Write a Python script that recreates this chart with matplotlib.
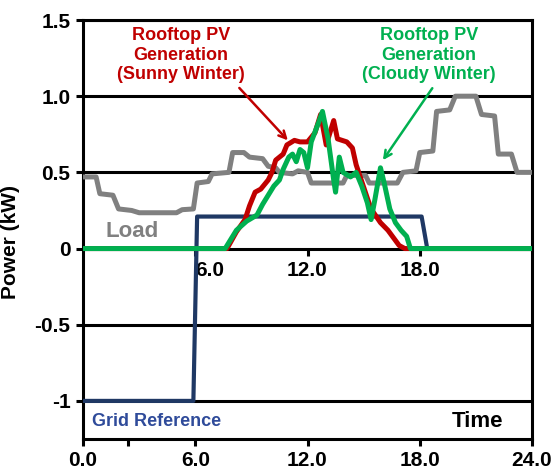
import matplotlib
matplotlib.use("Agg")
import matplotlib.pyplot as plt

# hour of day / power (kW)
load_t = [0.0, 0.7, 0.9, 1.6, 1.9, 2.6, 3.0, 5.0, 5.3, 5.9, 6.1, 6.7, 6.9, 7.8, 8.0, 8.6,
          8.9, 9.6, 9.9, 10.3, 10.5, 11.2, 11.5, 12.0, 12.2, 13.9, 14.1, 15.1, 15.3, 16.8,
          17.1, 17.8, 18.0, 18.7, 18.9, 19.6, 19.9, 21.0, 21.3, 22.0, 22.2, 22.9, 23.2, 24.0]
load_v = [0.47, 0.47, 0.36, 0.35, 0.26, 0.25, 0.235, 0.235, 0.255, 0.26, 0.43, 0.44, 0.49,
          0.50, 0.63, 0.63, 0.60, 0.59, 0.54, 0.53, 0.50, 0.49, 0.51, 0.50, 0.43, 0.43, 0.48,
          0.48, 0.43, 0.43, 0.50, 0.51, 0.63, 0.64, 0.90, 0.91, 1.00, 1.00, 0.88, 0.87, 0.62,
          0.62, 0.50, 0.50]

grid_t = [0.0, 5.9, 6.1, 18.1, 18.4]
grid_v = [-1.0, -1.0, 0.21, 0.21, 0.0]

sunny_t = [0.0, 7.7, 8.2, 8.66, 8.9, 9.2, 9.5, 9.9, 10.1, 10.3, 10.7, 10.9, 11.3, 11.6,
           12.0, 12.4, 12.7, 13.0, 13.4, 13.6, 14.1, 14.4, 14.6, 14.9, 15.2, 15.4, 15.9,
           16.3, 16.6, 16.9, 17.2, 24.0]
sunny_v = [0.0, 0.0, 0.11, 0.19, 0.28, 0.37, 0.39, 0.45, 0.50, 0.58, 0.62, 0.68, 0.71, 0.70,
           0.70, 0.76, 0.88, 0.68, 0.84, 0.72, 0.70, 0.66, 0.55, 0.44, 0.33, 0.26, 0.17,
           0.12, 0.07, 0.02, 0.0, 0.0]

cloudy_t = [0.0, 7.6, 8.2, 8.75, 9.3, 9.6, 9.9, 10.2, 10.5, 10.7, 11.0, 11.2, 11.4, 11.6,
            11.8, 12.0, 12.2, 12.6, 12.8, 13.1, 13.4, 13.5, 13.7, 13.9, 14.3, 14.6, 14.9,
            15.2, 15.4, 15.6, 15.9, 16.1, 16.4, 16.7, 17.0, 17.3, 17.5, 24.0]
cloudy_v = [0.0, 0.0, 0.12, 0.18, 0.22, 0.29, 0.35, 0.41, 0.45, 0.52, 0.60, 0.62, 0.57, 0.65,
            0.63, 0.53, 0.70, 0.83, 0.90, 0.72, 0.45, 0.37, 0.60, 0.50, 0.47, 0.50, 0.41,
            0.30, 0.19, 0.32, 0.53, 0.43, 0.26, 0.17, 0.12, 0.08, 0.0, 0.0]

x_ticks = [0, 6, 12, 18, 24]
x_labels = ["0.0", "6.0", "12.0", "18.0", "24.0"]
y_ticks = [-1, -0.5, 0, 0.5, 1.0, 1.5]
y_labels = ["-1", "-0.5", "0", "0.5", "1.0", "1.5"]
mid_ticks = [6, 12, 18]
mid_labels = ["6.0", "12.0", "18.0"]

RED = "#C00000"
GREEN = "#00B050"
GRAY = "#808080"
NAVY = "#1F3864"

plt.rcParams["font.family"] = ["Liberation Sans", "DejaVu Sans"]
plt.rcParams["font.weight"] = "bold"

fig = plt.figure(figsize=(5.58, 4.75), dpi=100)
ax = fig.add_axes([83 / 558, 36 / 475, 449 / 558, 419 / 475])

line_kw = dict(solid_joinstyle="round", solid_capstyle="round")
ax.plot(grid_t, grid_v, color=NAVY, lw=3.0, zorder=3, **line_kw)
ax.plot(load_t, load_v, color=GRAY, lw=3.6, zorder=4, **line_kw)
ax.plot(sunny_t, sunny_v, color=RED, lw=3.6, zorder=5, **line_kw)
ax.plot(cloudy_t, cloudy_v, color=GREEN, lw=3.6, zorder=6, **line_kw)

ax.set_xlim(0, 24)
ax.set_ylim(-1.25, 1.5)
ax.set_xticks(x_ticks)
ax.set_xticklabels(x_labels, fontsize=15, fontweight="bold")
ax.set_xticks([2.4], minor=True)
ax.set_yticks(y_ticks)
ax.set_yticklabels(y_labels, fontsize=15, fontweight="bold")
ax.tick_params(axis="both", which="both", direction="out", length=5, width=2.2, pad=4)

ax.grid(axis="y", color="black", lw=2.2)
ax.set_axisbelow(True)
for s in ax.spines.values():
    s.set_linewidth(2.2)
    s.set_color("black")

ax.set_ylabel("Power (kW)", fontsize=15, fontweight="bold")
ax.yaxis.set_label_coords(-0.14, 0.47)

# second set of hour labels along the zero line
sec = ax.secondary_xaxis(0, transform=ax.transData)
sec.set_xticks(mid_ticks)
sec.set_xticklabels(mid_labels, fontsize=15, fontweight="bold")
sec.tick_params(direction="out", length=5, width=2.2, pad=4)
for s in sec.spines.values():
    s.set_visible(False)
sec.get_xticklabels()[0].set_horizontalalignment("left")

ax.text(1.2, 0.11, "Load", color=GRAY, fontsize=16, fontweight="bold", va="center")
ax.text(0.5, -1.135, "Grid Reference", color="#2F4B9A", fontsize=13,
        fontweight="bold", va="center")
ax.text(21.1, -1.135, "Time", color="black", fontsize=16, fontweight="bold",
        ha="center", va="center")

ax.annotate("Rooftop PV\nGeneration\n(Sunny Winter)", xy=(10.95, 0.71),
            xytext=(5.25, 1.27), color=RED, fontsize=13, fontweight="bold",
            ha="center", va="center", linespacing=1.2,
            arrowprops=dict(arrowstyle="->", color=RED, lw=1.8,
                            shrinkA=2, shrinkB=0, relpos=(0.92, 0.0)))
ax.annotate("Rooftop PV\nGeneration\n(Cloudy Winter)", xy=(16.03, 0.58),
            xytext=(18.5, 1.27), color=GREEN, fontsize=13, fontweight="bold",
            ha="center", va="center", linespacing=1.2,
            arrowprops=dict(arrowstyle="->", color=GREEN, lw=1.8,
                            shrinkA=2, shrinkB=0, relpos=(0.55, 0.0)))

fig.savefig("out.png", dpi=100)
